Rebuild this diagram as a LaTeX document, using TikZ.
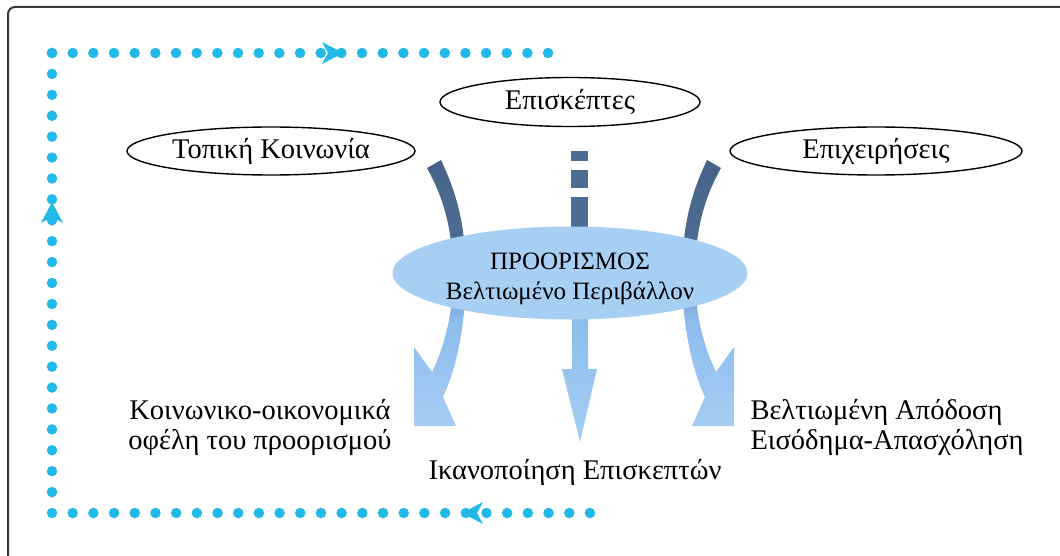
\documentclass[tikz,border=0pt]{standalone}
\usepackage{fontspec}
\setmainfont{Liberation Serif}
\usetikzlibrary{shapes.geometric}
\definecolor{loopcyan}{RGB}{34,184,232}
\definecolor{darkband}{RGB}{78,108,147}
\definecolor{darkbandtop}{RGB}{70,98,136}
\definecolor{lightband}{RGB}{140,188,236}
\definecolor{lightbandlow}{RGB}{165,205,244}
\definecolor{destfill}{RGB}{166,207,243}
\definecolor{framegray}{RGB}{55,55,55}
\pgfdeclareverticalshading{bandshade}{100bp}{color(0bp)=(lightbandlow); color(25bp)=(lightbandlow); color(45bp)=(lightband); color(60bp)=(darkband); color(75bp)=(darkbandtop); color(100bp)=(darkbandtop)}
\def\bentarrow[#1]{\shade[#1] (427,168) .. controls (442,195) and (452,225) .. (453,270) .. controls (454,310) and (445,345) .. (432,372) -- (414,347) -- (414,426) -- (456,426) -- (443,397) .. controls (458,365) and (466,320) .. (466,270) .. controls (465,220) and (455,190) .. (441,160) -- cycle;}
\def\looptip[#1](#2){\fill[loopcyan, shift={(#2)}, #1] (0,0) -- (-21,-11) -- (-15,0) -- (-21,11) -- cycle;}

\begin{document}
\begin{tikzpicture}[x=1pt, y=-1pt]
			\tikzset{
				groupell/.style={draw, ellipse, line width=1.4pt, inner sep=0pt, font=\fontsize{28.5}{33}\selectfont},
				destell/.style={ellipse, fill=destfill, inner sep=0pt},
				desttext/.style={align=center, font=\fontsize{25}{30}\selectfont},
				result/.style={align=center, font=\fontsize{28.5}{30}\selectfont},
				dotline/.style={loopcyan, line width=10.5pt, line cap=round, dash pattern=on 0pt off #1pt}
			}
			\useasboundingbox (0,0) rectangle (1060,556);
			%%%%% FRAME %%%%%
			\draw[framegray, line width=2pt, rounded corners=7pt] (8,562) -- (8,7) -- (1066,7);
			
			%%%%% FEEDBACK LOOP %%%%%
			\coordinate (loopTL) at (52,53);
			\coordinate (loopTR) at (549.5,53);
			\coordinate (loopBL) at (52,513);
			\coordinate (loopBR) at (591,513);
			\draw[dotline=20.67] (loopTL) -- (loopTR);
			\draw[dotline=20.91] (loopTL) -- (loopBL);
			\draw[dotline=20.69] (loopBL) -- (loopBR);
			\looptip[rotate=0](343,53)
			\looptip[rotate=90](52,202)
			\looptip[rotate=180](462,513)
			
			%%%%% FLOWS %%%%%
			\bentarrow[shading=bandshade]
			\begin{scope}[xshift=1148pt, xscale=-1]
				\bentarrow[shading=bandshade]
			\end{scope}
			\fill[darkband] (571,151) rectangle (588,161);
			\fill[darkband] (571,170) rectangle (588,188);
			\fill[darkband] (571,197) rectangle (588,232);
			\shade[top color=lightband, bottom color=lightbandlow] (572,312) -- (572,369) -- (562,369) -- (580,442) -- (597,369) -- (588,369) -- (588,312) -- cycle;
			
			%%%%% NODES %%%%%
			\node[destell, minimum width=355pt, minimum height=93pt] (dest) at (570,273) {};
			\node[desttext] (destlabel) at (570,279) {ΠΡΟΟΡΙΣΜΟΣ\\Βελτιωμένο Περιβάλλον};
			\node[groupell, minimum width=288pt, minimum height=48pt] (local) at (271,151) {Τοπική Κοινωνία};
			\node[groupell, minimum width=260pt, minimum height=49pt] (visitors) at (570,102) {Επισκέπτες};
			\node[groupell, minimum width=292pt, minimum height=48pt] (business) at (876,151) {Επιχειρήσεις};
			
			\node[result] (benefit) at (260,427) {Κοινωνικο-οικονομικά\\οφέλη του προορισμού};
			\node[result] (satisf) at (575,472) {Ικανοποίηση Επισκεπτών};
			\node[result, align=left] (income) at (887,427) {Βελτιωμένη Απόδοση\\Εισόδημα-Απασχόληση};
		\end{tikzpicture}
\end{document}
